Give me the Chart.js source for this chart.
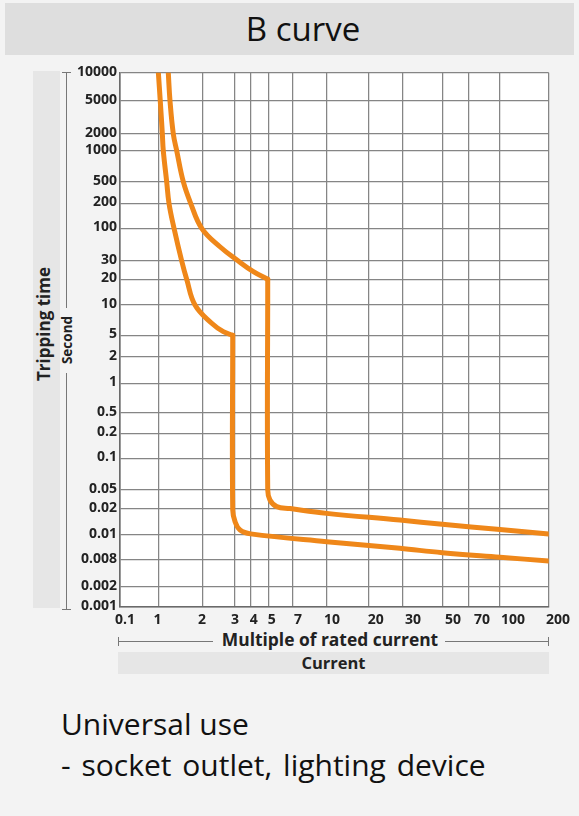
<!DOCTYPE html>
<html>
<head>
<meta charset="utf-8">
<script src="https://cdn.jsdelivr.net/npm/chart.js@4.4.1/dist/chart.umd.min.js"></script>
<style>
  html, body { margin:0; padding:0; }
  body { width:579px; height:816px; background:#f3f3f3; position:relative; overflow:hidden; font-family:'Open Sans', 'Noto Sans', sans-serif; color:#111; }
  .abs { position:absolute; }
  #title { left:5px; top:3px; width:569px; height:52px; background:#dedede; }
  #titleText { left:180px; top:3px; width:246px; height:52px; text-align:center; font-size:33px; line-height:52px; color:#111; }
  #leftBand { left:33px; top:71px; width:27px; height:537px; background:#e6e6e6; }
  .rot { transform-origin:center center; white-space:nowrap; font-weight:700; text-align:center; }
  .ln { background:#777; }
  #curBand { left:118px; top:652px; width:431px; height:22px; background:#e6e6e6; text-align:center; font-weight:700; font-size:16.5px; line-height:22px; color:#222; }
  #desc { left:61px; top:703px; font-size:30px; line-height:41px; color:#111; }
  canvas { position:absolute; left:0; top:0; }
</style>
</head>
<body>
<div id="title" class="abs"></div>
<div id="titleText" class="abs">B curve</div>
<div id="leftBand" class="abs"></div>
<div class="abs rot" style="left:-26px; top:312px; width:140px; height:24px; line-height:24px; font-size:17px; transform:rotate(-90deg); color:#222;">Tripping time</div>
<!-- y bracket -->
<div class="abs ln" style="left:66px; top:72px; width:1px; height:236px;"></div>
<div class="abs ln" style="left:66px; top:373px; width:1px; height:237px;"></div>
<div class="abs ln" style="left:62px; top:72px; width:9px; height:1px;"></div>
<div class="abs ln" style="left:62px; top:609px; width:9px; height:1px;"></div>
<div class="abs rot" style="left:32px; top:331px; width:70px; height:18px; line-height:18px; font-size:13.5px; transform:rotate(-90deg); color:#222;">Second</div>
<!-- x bracket -->
<div class="abs ln" style="left:118px; top:641px; width:95px; height:1px;"></div>
<div class="abs ln" style="left:445px; top:641px; width:104px; height:1px;"></div>
<div class="abs ln" style="left:118px; top:637px; width:1px; height:9px;"></div>
<div class="abs ln" style="left:548px; top:637px; width:1px; height:9px;"></div>
<div class="abs" style="left:210px; top:627px; width:240px; text-align:center; font-weight:700; font-size:17.4px; line-height:24px; color:#222;">Multiple of rated current</div>
<div id="curBand" class="abs">Current</div>
<div id="desc" class="abs">Universal use<br><span style="word-spacing:3px;">- socket outlet, lighting device</span></div>
<canvas id="c" width="579" height="816"></canvas>
<script>
// ---- data ----
const xTickValues = [0.1, 1, 2, 3, 4, 5, 7, 10, 20, 30, 50, 70, 100, 200];
const xTickLabels = ['0.1','1','2','3','4','5','7','10','20','30','50','70','100','200'];
const yTickValues = [0.001, 0.002, 0.008, 0.01, 0.02, 0.05, 0.1, 0.2, 0.5, 1, 2, 5, 10, 20, 30, 100, 200, 500, 1000, 2000, 5000, 10000];
const yTickLabels = ['0.001','0.002','0.008','0.01','0.02','0.05','0.1','0.2','0.5','1','2','5','10','20','30','100','200','500','1000','2000','5000','10000'];

// lower boundary: multiple of rated current / tripping time (s)
const lowerCurrent = [0.98, 1.025, 1.059, 1.075, 1.134, 1.176, 1.273, 1.437, 1.554, 1.772, 2.245, 2.606, 2.94, 2.94, 3.04, 3.32, 4.0, 10, 29, 50, 100, 200];
const lowerTime    = [10000, 5000, 2000, 1000, 500, 200, 100, 30, 20, 10, 6.58, 5.43, 5, 0.0195, 0.01426, 0.0114, 0.0103, 0.00942, 0.00888, 0.00854, 0.0082, 0.0076];
const lowerKnee = 12;   // index of the thermal/magnetic corner
// upper boundary
const upperCurrent = [1.163, 1.195, 1.259, 1.328, 1.473, 1.655, 1.969, 2.496, 3.22, 4.14, 4.97, 4.97, 5.12, 5.62, 6.74, 10, 29, 50, 100, 200];
const upperTime    = [10000, 5000, 2000, 1000, 500, 200, 100, 50.7, 30, 23.7, 20, 0.05, 0.0309, 0.0224, 0.0204, 0.0178, 0.0149, 0.0133, 0.0116, 0.0103];
const upperKnee = 10;

// ---- axis layout (non-uniform chart paper: relative spacing of each grid stop) ----
const X_STOP_POS  = [0, 38.7, 82.7, 114.3, 130.7, 148.2, 172.8, 206.7, 248.7, 282.7, 322.3, 349, 380, 428.7];
const X_LABEL_POS = [5, 37.5, 82, 115, 133.7, 151.7, 178, 212, 255.8, 293, 333, 362, 393, 438];
const Y_STOP_POS  = [0, 20, 46.7, 71.7, 97.7, 116.7, 148.4, 173.4, 194, 223.4, 250, 271.4, 301.7, 327.4, 345.7, 378.4, 403.4, 425, 456, 472.7, 505.7, 534];

function toPos(v, vals, pos) {
  if (v <= vals[0]) return pos[0];
  for (let i = 0; i < vals.length - 1; i++) {
    if (v <= vals[i + 1]) {
      const f = (Math.log(v) - Math.log(vals[i])) / (Math.log(vals[i + 1]) - Math.log(vals[i]));
      return pos[i] + f * (pos[i + 1] - pos[i]);
    }
  }
  return pos[pos.length - 1];
}
const mkPts = (xs, ys) => xs.map((x, i) => ({ x: toPos(x, xTickValues, X_STOP_POS), y: toPos(ys[i], yTickValues, Y_STOP_POS) }));

const ORANGE = '#EF8719';
const lineStyle = { showLine: true, borderColor: ORANGE, borderWidth: 5, pointRadius: 0, tension: 0.4, clip: 0, borderCapStyle: 'round', borderJoinStyle: 'round' };
const whiteArea = {
  id: 'whiteArea',
  beforeDraw(chart) {
    const { ctx, chartArea: a } = chart;
    ctx.save(); ctx.fillStyle = '#ffffff'; ctx.fillRect(a.left, a.top, a.right - a.left, a.bottom - a.top); ctx.restore();
  }
};

const lowerPts = mkPts(lowerCurrent, lowerTime);
const upperPts = mkPts(upperCurrent, upperTime);

new Chart(document.getElementById('c'), {
  type: 'scatter',
  data: {
    datasets: [
      Object.assign({ label: 'lower thermal', data: lowerPts.slice(0, lowerKnee + 1) }, lineStyle),
      Object.assign({ label: 'lower magnetic', data: lowerPts.slice(lowerKnee) }, lineStyle),
      Object.assign({ label: 'upper thermal', data: upperPts.slice(0, upperKnee + 1) }, lineStyle),
      Object.assign({ label: 'upper magnetic', data: upperPts.slice(upperKnee) }, lineStyle)
    ]
  },
  options: {
    responsive: false,
    animation: false,
    devicePixelRatio: 1,
    layout: { padding: { left: 0, top: 72.7, right: 30.3, bottom: 179.3 } },
    plugins: { legend: { display: false }, tooltip: { enabled: false }, title: { display: false } },
    scales: {
      x: {
        type: 'linear', min: 0, max: X_STOP_POS[X_STOP_POS.length - 1],
        afterFit(s) { s.height = 0; },
        afterBuildTicks(s) { s.ticks = X_STOP_POS.map(p => ({ value: p })); },
        grid: { color: '#858585', lineWidth: 1.25, drawTicks: false },
        border: { color: '#6a6a6a', width: 1.6 },
        ticks: { display: false }
      },
      xLabels: {
        type: 'linear', position: 'bottom', min: 0, max: X_STOP_POS[X_STOP_POS.length - 1],
        afterFit(s) { s.height = 30; },
        afterBuildTicks(s) { s.ticks = X_LABEL_POS.map(p => ({ value: p })); },
        grid: { display: false, drawTicks: false },
        border: { display: false },
        ticks: {
          autoSkip: false, maxRotation: 0, minRotation: 0, padding: 5,
          color: '#222', font: { family: "'Open Sans'", weight: 'bold', size: 14 },
          callback: (v, i) => xTickLabels[i]
        }
      },
      y: {
        type: 'linear', min: 0, max: Y_STOP_POS[Y_STOP_POS.length - 1],
        afterFit(s) { s.width = 120; },
        afterBuildTicks(s) { s.ticks = Y_STOP_POS.map(p => ({ value: p })); },
        grid: { color: '#858585', lineWidth: 1.25, drawTicks: false },
        border: { color: '#6a6a6a', width: 1.6 },
        ticks: {
          autoSkip: false, padding: 3, labelOffset: -1,
          color: '#222', font: { family: "'Open Sans'", weight: 'bold', size: 14 },
          callback: (v, i) => yTickLabels[i]
        }
      }
    }
  },
  plugins: [whiteArea]
});
</script>
</body>
</html>
